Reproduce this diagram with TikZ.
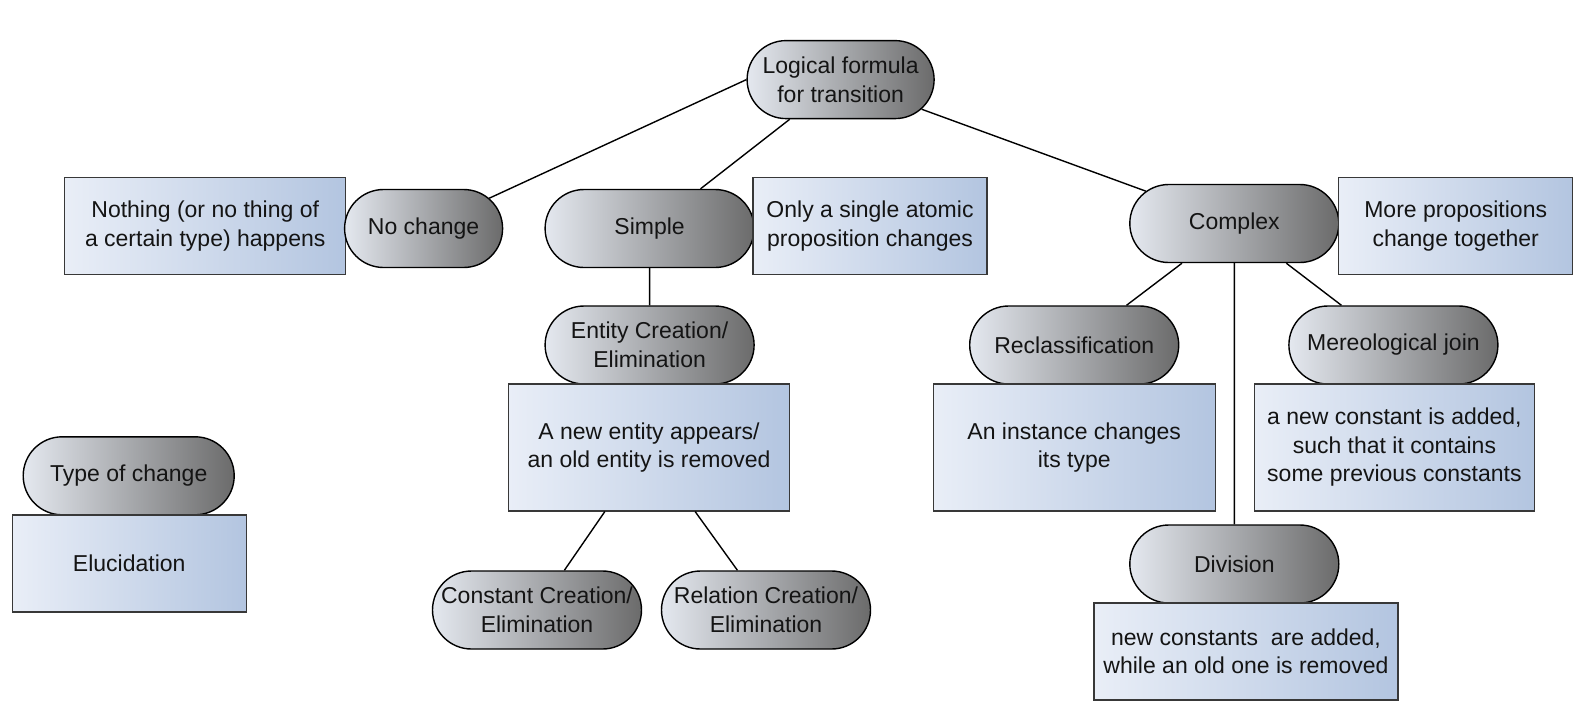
\documentclass[tikz,border=0pt]{standalone}
\usepackage{fontspec}
\setmainfont{Liberation Sans}
\usepackage{xcolor}
\usepackage{tikz}
\usetikzlibrary{shapes.misc}
\definecolor{ink}{HTML}{141414}
\definecolor{ovalL}{HTML}{E4E8EF}
\definecolor{ovalR}{HTML}{6B6B6B}
\definecolor{boxL}{HTML}{E9EEF7}
\definecolor{boxR}{HTML}{B3C5E0}
\definecolor{boxline}{HTML}{383838}
\tikzset{
  kind/.style={rounded rectangle, draw=black, line width=1.4pt,
    left color=ovalL, right color=ovalR, minimum height=78pt,
    minimum width=139pt, inner xsep=-35pt, inner ysep=2pt, align=center},
  note/.style={rectangle, draw=boxline, line width=1.4pt,
    left color=boxL, right color=boxR, minimum height=97pt,
    minimum width=234pt, align=center},
  link/.style={draw=black, line width=1.4pt},
  every node/.style={text=ink, font=\fontsize{23}{28.5}\selectfont}
}

\begin{document}
\begin{tikzpicture}[x=1pt, y=-1pt]
  \path[fill=white] (0,0) rectangle (1589,710);
  \useasboundingbox (0,0) rectangle (1589,710);

  % top
  \node[kind, minimum width=117pt] (logic) at (840.6,79.6) {Logical formula\\for transition};

  % left branch
  \node[note, minimum width=281pt] (nothing) at (205.2,226) {Nothing (or no thing of\\a certain type) happens};
  \node[kind, minimum width=88pt] (nochange) at (423.6,228.5) {No change};

  % simple branch
  \node[kind] (simple) at (649.6,228.5) {Simple};
  \node[note] (single) at (870,226) {Only a single atomic\\proposition changes};
  \node[kind] (entity) at (649.6,345) {Entity Creation/\\Elimination};
  \node[note, minimum width=281pt, minimum height=127pt] (entitynote) at (649,447.4) {A new entity appears/\\an old entity is removed};
  \node[kind] (constant) at (537,610) {Constant Creation/\\Elimination};
  \node[kind] (relation) at (766,610) {Relation Creation/\\Elimination};

  % complex branch
  \node[kind] (complex) at (1234.3,223.5) {Complex};
  \node[note] (more) at (1455.7,226) {More propositions\\change together};
  \node[kind] (reclass) at (1074.2,345) {Reclassification};
  \node[note, minimum width=282pt, minimum height=127pt] (reclassnote) at (1074.2,447.4) {An instance changes\\its type};
  \node[kind] (mereo) at (1393.4,345) {Mereological join};
  \node[note, minimum width=280pt, minimum height=127pt] (mereonote) at (1394.4,447.4) {a new constant is added,\\such that it contains\\some previous constants};
  \node[kind] (division) at (1234.3,564) {Division};
  \node[note, minimum width=304pt] (divisionnote) at (1246,651.5) {new constants\ \ are added,\\while an old one is removed};

  % legend
  \node[kind, minimum width=141pt] (legend) at (128.7,475.8) {Type of change};
  \node[note] (legendnote) at (129.2,563.4) {Elucidation};

  \draw[link] (logic.west) -- (nochange);
  \draw[link] (logic) -- (simple);
  \draw[link] (logic) -- (complex);
  \draw[link] (simple) -- (entity);
  \draw[link] (entitynote) -- (constant);
  \draw[link] (entitynote) -- (relation);
  \draw[link] (complex) -- (reclass);
  \draw[link] (complex) -- (division);
  \draw[link] (complex) -- (mereo);
\end{tikzpicture}
\end{document}
